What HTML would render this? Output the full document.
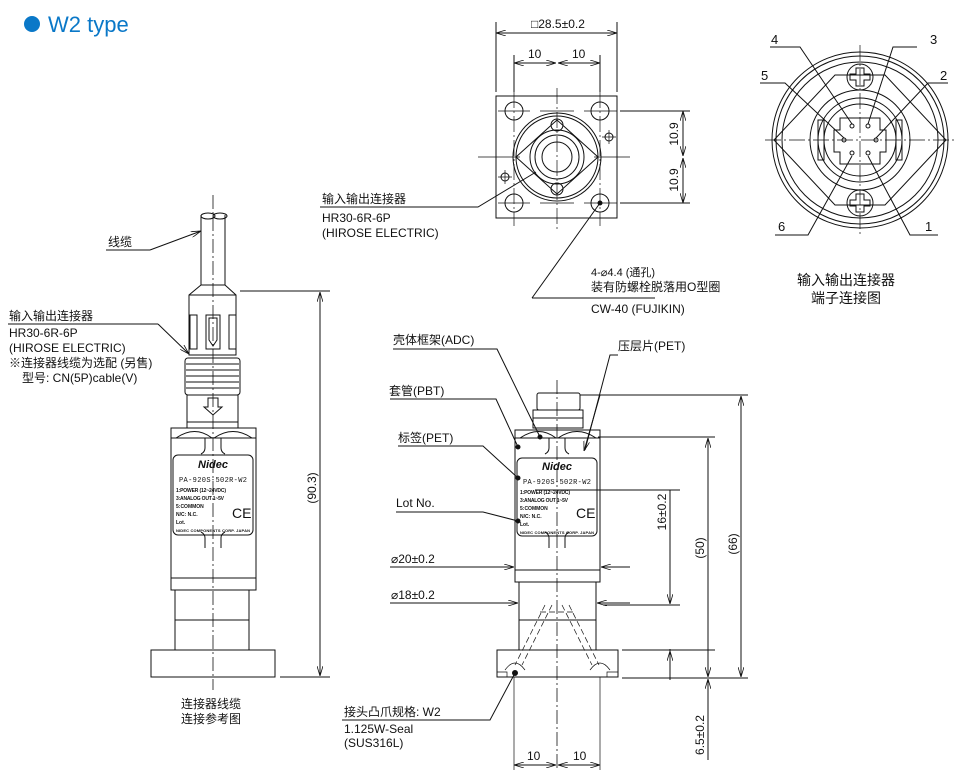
<!DOCTYPE html>
<html><head><meta charset="utf-8"><style>
html,body{margin:0;padding:0;background:#fff}
svg{display:block}
text{font-family:"Liberation Sans","Noto Sans CJK SC",sans-serif;font-size:12px;fill:#111}
.t{font-size:11px}
.s{font-size:5px;font-family:"Liberation Sans","Noto Sans CJK SC",sans-serif;font-weight:bold}
.p{font-size:13px}
</style></head><body>
<svg width="972" height="780" viewBox="0 0 972 780" xmlns="http://www.w3.org/2000/svg">
<defs>
<marker id="a" viewBox="0 0 10 6" refX="10" refY="3" markerWidth="10" markerHeight="6" orient="auto-start-reverse" markerUnits="userSpaceOnUse"><path d="M0,0L10,3L0,6" fill="none" stroke="#111" stroke-width="0.8"/></marker>
</defs>
<circle cx="32" cy="24" r="8" fill="#0a78c8"/>
<text x="48" y="32" style="font-size:22px;fill:#0a78c8">W2 type</text>

<g fill="none" stroke="#111" stroke-width="1">
<line x1="213" y1="195" x2="213" y2="690" stroke-dasharray="14,3,2,3" stroke-width="0.8"/>
<path d="M201,215V285M225,215V285"/>
<ellipse cx="208" cy="216" rx="7" ry="3"/><ellipse cx="220" cy="216" rx="7" ry="3"/>
<path d="M201,285H225L236,295V355H189V295Z"/>
<path d="M189,295H236"/>
<path d="M190,315h7v34h-7zM206,315h14v34h-14zM229,315h7v34h-7z"/>
<path d="M209,318v22l4,6l4,-6v-22z"/>
<rect x="185" y="358" width="55" height="37" rx="3"/>
<path d="M186,364H239M186,370H239M186,376H239M186,382H239M186,388H239"/>
<rect x="187" y="395" width="51" height="27"/>
<path d="M208,398h10v9h4l-9,8l-9,-8h4z"/>
<rect x="187" y="422" width="51" height="6"/>
<rect x="171" y="428" width="85" height="162"/>
<path d="M171,438H256M171,578H256"/>
<path d="M176,438Q195,425 212,438M214,438Q233,425 252,438"/>
<path d="M205,438v10q0,4 -4,6M221,438v10q0,4 4,6M205,548v-10q0,-4 -4,-6M221,548v-10q0,-4 4,-6"/>
<rect x="173" y="455" width="80" height="80" rx="5"/>
<rect x="175" y="590" width="74" height="60"/>
<path d="M175,620H249"/>
<rect x="151" y="650" width="124" height="27"/>
<path d="M240,291H330M280,677H330"/>
<line x1="320" y1="292" x2="320" y2="676" marker-start="url(#a)" marker-end="url(#a)"/>
<path d="M106,250H150"/><line x1="150" y1="250" x2="201" y2="231" marker-end="url(#a)"/>
<path d="M8,324H158"/><line x1="158" y1="324" x2="189" y2="354" marker-end="url(#a)"/>

<rect x="496" y="96" width="121" height="122"/>
<circle cx="514" cy="111" r="9"/><circle cx="600" cy="111" r="9"/><circle cx="514" cy="203" r="9"/><circle cx="600" cy="203" r="9"/>
<circle cx="557" cy="157" r="44"/><circle cx="557" cy="157" r="41"/>
<path d="M516,157L557,120L598,157L557,194Z"/>
<circle cx="557" cy="157" r="27"/><circle cx="557" cy="157" r="22"/><circle cx="557" cy="157" r="15"/>
<circle cx="557" cy="125" r="6"/><circle cx="557" cy="189" r="6"/>
<circle cx="609" cy="137" r="4"/><circle cx="505" cy="177" r="4"/>
<path d="M498,111H530M540,111H574M584,111H617M498,203H530M540,203H574M584,203H617M478,157H520M594,157H630" stroke-width="0.7"/>
<path d="M514,92V226M600,92V226M557,88V230" stroke-width="0.7" stroke-dasharray="16,3,2,3"/>
<path d="M602,137h14M609,130v14M498,177h14M505,170v14" stroke-width="0.7"/>
<path d="M496,22V92M617,22V92M514,55V92M600,55V92"/>
<line x1="496" y1="33" x2="617" y2="33" marker-start="url(#a)" marker-end="url(#a)"/>
<line x1="514" y1="63" x2="556" y2="63" marker-start="url(#a)" marker-end="url(#a)"/>
<line x1="558" y1="63" x2="600" y2="63" marker-start="url(#a)" marker-end="url(#a)"/>
<path d="M620,111H690M620,203H690"/>
<line x1="683" y1="111" x2="683" y2="156" marker-start="url(#a)" marker-end="url(#a)"/>
<line x1="683" y1="158" x2="683" y2="203" marker-start="url(#a)" marker-end="url(#a)"/>
<path d="M320,207H478L536,172"/>
<path d="M532,298H655M532,298L600,203"/>

<circle cx="860" cy="140" r="88"/><circle cx="860" cy="140" r="84"/><circle cx="860" cy="140" r="78"/>
<path d="M774,140L835,75L885,75L946,140L885,205L835,205Z"/>
<circle cx="860" cy="77" r="13"/><circle cx="860" cy="203" r="13"/>
<path d="M856,69h8v6h6v6h-6v6h-8v-6h-6v-6h6z" transform="translate(0,-1)"/>
<path d="M856,195h8v6h6v6h-6v6h-8v-6h-6v-6h6z" transform="translate(0,-1)"/>
<circle cx="860" cy="140" r="50"/><circle cx="860" cy="140" r="42"/><circle cx="860" cy="140" r="36"/>
<path d="M840,118h40v12h6v22h-6v12h-40v-12h-6v-22h6z"/>
<path d="M818,120h6v40h-6zM896,120h6v40h-6z"/>
<circle cx="852" cy="126" r="2"/><circle cx="868" cy="126" r="2"/><circle cx="844" cy="140" r="2"/><circle cx="876" cy="140" r="2"/><circle cx="852" cy="153" r="2"/><circle cx="868" cy="153" r="2"/>
<path d="M765,140H955M860,45V235" stroke-width="0.7" stroke-dasharray="16,3,2,3"/>
<path d="M770,47H800L852,124M917,47H893L868,124M760,83H785L844,138M948,83H928L876,138M775,235H808L852,156M938,235H910L868,156"/>

<line x1="557" y1="380" x2="557" y2="770" stroke-dasharray="14,3,2,3" stroke-width="0.8"/>
<rect x="537" y="393" width="43" height="17" rx="2"/>
<path d="M533,410H583V428H533Z M533,418H583"/>
<rect x="515" y="430" width="85" height="152"/>
<path d="M515,438H600M515,570H600"/>
<path d="M520,438Q539,425 556,438M558,438Q577,425 596,438"/>
<path d="M549,438v10q0,4 -4,6M565,438v10q0,4 4,6M549,548v-10q0,-4 -4,-6M565,548v-10q0,-4 4,-6"/>
<rect x="517" y="458" width="80" height="78" rx="5"/>
<rect x="519" y="582" width="77" height="68"/>
<path d="M519,620H596"/>
<rect x="497" y="650" width="121" height="27"/>
<path d="M497,672H507V677M607,677V672H618" stroke-width="0.7"/>
<path d="M545,605L515,665M552,605L522,665M562,605L592,665M569,605L599,665M540,612L575,612" stroke-dasharray="6,3" stroke-width="0.7"/>
<path d="M505,670q10,-14 20,0M590,670q10,-14 20,0" stroke-width="0.7"/>
<path d="M514,677V770M600,677V770" stroke-width="0.7"/>
<path d="M580,395H748M598,437H715M535,490H680M603,605H680M622,650H715M622,678H748"/>
<line x1="741" y1="396" x2="741" y2="677" marker-start="url(#a)" marker-end="url(#a)"/>
<line x1="708" y1="438" x2="708" y2="677" marker-start="url(#a)" marker-end="url(#a)"/>
<line x1="670" y1="490" x2="670" y2="604" marker-end="url(#a)"/>
<line x1="670" y1="649" x2="670" y2="680"/><line x1="670" y1="680" x2="670" y2="651" marker-end="url(#a)"/>
<line x1="708" y1="760" x2="708" y2="679" marker-end="url(#a)"/>
<line x1="514" y1="765" x2="556" y2="765" marker-start="url(#a)" marker-end="url(#a)"/>
<line x1="558" y1="765" x2="600" y2="765" marker-start="url(#a)" marker-end="url(#a)"/>
<path d="M390,567H508"/><line x1="500" y1="567" x2="514" y2="567" marker-end="url(#a)"/>
<path d="M610,567H630"/><line x1="622" y1="567" x2="601" y2="567" marker-end="url(#a)"/>
<path d="M390,603H510"/><line x1="505" y1="603" x2="518" y2="603" marker-end="url(#a)"/>
<path d="M605,603H630"/><line x1="618" y1="603" x2="597" y2="603" marker-end="url(#a)"/>
<path d="M393,349H497L540,437"/><circle cx="540" cy="437" r="2" fill="#111"/>
<path d="M390,399H496L518,447"/><circle cx="518" cy="447" r="2" fill="#111"/>
<path d="M398,446H483L518,478"/><circle cx="518" cy="478" r="2" fill="#111"/>
<path d="M396,512H483L518,521"/><circle cx="518" cy="521" r="2" fill="#111"/>
<path d="M618,355H610L585,450"/><line x1="600" y1="395" x2="584" y2="451" marker-end="url(#a)"/>
<path d="M342,720H490L515,673"/><circle cx="515" cy="673" r="2.5" fill="#111"/>
</g>
<circle cx="600" cy="203" r="2.5" fill="#111"/>

<text x="198" y="468" style="font-size:11px;font-style:italic;font-weight:bold">Nidec</text>
<text x="179" y="482" style="font-size:7px;font-family:'Liberation Mono',monospace" textLength="68">PA-920S-502R-W2</text>
<text x="176" y="492" class="s" textLength="50">1:POWER (12~24VDC)</text>
<text x="176" y="500" class="s" textLength="48">3:ANALOG OUT 1~5V</text>
<text x="176" y="508" class="s">5:COMMON</text>
<text x="176" y="516" class="s">N/C: N.C.</text>
<text x="176" y="524" class="s">Lot.</text>
<text x="176" y="532" class="s" style="font-size:4px" textLength="74">NIDEC COMPONENTS CORP. JAPAN</text>
<text x="232" y="518" style="font-size:14px">CE</text>

<text x="542" y="470" style="font-size:11px;font-style:italic;font-weight:bold">Nidec</text>
<text x="523" y="484" style="font-size:7px;font-family:'Liberation Mono',monospace" textLength="68">PA-920S-502R-W2</text>
<text x="520" y="494" class="s" textLength="50">1:POWER (12~24VDC)</text>
<text x="520" y="502" class="s" textLength="48">3:ANALOG OUT 1~5V</text>
<text x="520" y="510" class="s">5:COMMON</text>
<text x="520" y="518" class="s">N/C: N.C.</text>
<text x="520" y="526" class="s">Lot.</text>
<text x="520" y="534" class="s" style="font-size:4px" textLength="74">NIDEC COMPONENTS CORP. JAPAN</text>
<text x="576" y="518" style="font-size:14px">CE</text>

<text x="108" y="246">线缆</text>
<text x="9" y="320">输入输出连接器</text>
<text x="9" y="337">HR30-6R-6P</text>
<text x="9" y="352">(HIROSE ELECTRIC)</text>
<text x="9" y="367">※连接器线缆为选配 (另售)</text>
<text x="22" y="382">型号: CN(5P)cable(V)</text>
<text x="181" y="708">连接器线缆</text>
<text x="181" y="723">连接参考图</text>
<text transform="translate(316,488) rotate(-90)" text-anchor="middle">(90.3)</text>

<text x="531" y="28">□28.5±0.2</text>
<text x="528" y="58">10</text><text x="572" y="58">10</text>
<text transform="translate(678,134) rotate(-90)" text-anchor="middle">10.9</text>
<text transform="translate(678,180) rotate(-90)" text-anchor="middle">10.9</text>
<text x="322" y="203">输入输出连接器</text>
<text x="322" y="222">HR30-6R-6P</text>
<text x="322" y="237">(HIROSE ELECTRIC)</text>
<text x="591" y="276" class="t">4-⌀4.4 (通孔)</text>
<text x="591" y="291">装有防螺栓脱落用O型圈</text>
<text x="591" y="313">CW-40 (FUJIKIN)</text>

<text x="771" y="44" class="p">4</text><text x="930" y="44" class="p">3</text><text x="761" y="80" class="p">5</text><text x="940" y="80" class="p">2</text>
<text x="778" y="231" class="p">6</text><text x="925" y="231" class="p">1</text>
<text x="797" y="285" style="font-size:14px">输入输出连接器</text>
<text x="811" y="303" style="font-size:14px">端子连接图</text>

<text x="393" y="344">壳体框架(ADC)</text>
<text x="389" y="395">套管(PBT)</text>
<text x="398" y="442">标签(PET)</text>
<text x="396" y="507">Lot No.</text>
<text x="391" y="563">⌀20±0.2</text>
<text x="391" y="599">⌀18±0.2</text>
<text x="618" y="350">压层片(PET)</text>
<text transform="translate(666,512) rotate(-90)" text-anchor="middle">16±0.2</text>
<text transform="translate(704,548) rotate(-90)" text-anchor="middle">(50)</text>
<text transform="translate(737,544) rotate(-90)" text-anchor="middle">(66)</text>
<text transform="translate(704,735) rotate(-90)" text-anchor="middle">6.5±0.2</text>
<text x="527" y="760">10</text><text x="573" y="760">10</text>
<text x="344" y="716">接头凸爪规格: W2</text>
<text x="344" y="733">1.125W-Seal</text>
<text x="344" y="747">(SUS316L)</text>
</svg>
</body></html>
